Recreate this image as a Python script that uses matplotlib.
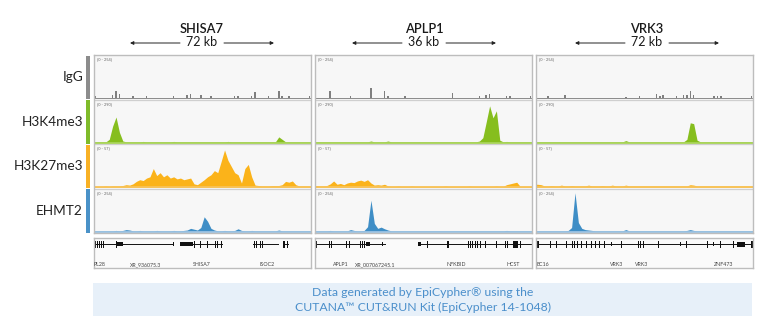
import numpy as np
import matplotlib
matplotlib.use('Agg')
import matplotlib.pyplot as plt
from matplotlib.patches import Rectangle

plt.rcParams['font.family'] = ['Lato', 'DejaVu Sans']

# ---------------- data ----------------
genes = ['SHISA7', 'APLP1', 'VRK3']
spans = ['72 kb', '36 kb', '72 kb']
tracks = ['IgG', 'H3K4me3', 'H3K27me3', 'EHMT2']
ranges = ['[0 - 254]', '[0 - 290]', '[0 - 57]', '[0 - 254]']

# signal (% of track height), 64 bins per locus
igg_shisa7 = [5,0,0,0,0,8,18,10,0,0, 0,6,0,0,0,6,0,0,0,0, 0,0,0,5,0,0,0,8,9,0,
              0,8,0,0,5,0,0,0,0,0, 0,6,5,0,0,0,6,15,0,0, 0,5,0,0,18,6,0,5,0,0, 0,0,0,6]
igg_aplp1 = [0,0,0,0,18,0,0,0,0,0, 5,0,0,0,0,0,25,0,0,0, 18,6,0,0,0,0,5,0,0,0,
             0,0,0,0,0,0,0,0,0,0, 12,0,0,0,0,0,0,0,5,0, 8,10,0,0,0,0,5,5,0,0, 0,0,0,6]
igg_vrk3 = [0,0,0,5,0,0,0,0,8,0, 0,0,0,0,0,0,0,0,0,0, 0,0,0,0,0,0,4,0,0,0,
            5,0,0,0,0,10,5,8,0,0, 0,5,0,8,8,18,8,0,0,0, 0,0,5,5,5,0,0,0,0,0, 0,0,0,5]

k4_shisa7 = [2,2,2,2,8,40,62,25,4,2, 2,2,2,2,3,2,2,2,2,2, 2,2,2,3,2,2,2,2,2,2,
             2,2,2,2,2,2,2,2,2,3, 2,2,2,2,2,2,2,2,2,2, 2,2,2,2,14,8,2,2,2,2, 2,2,2,2]
k4_aplp1 = [2,2,2,2,2,2,2,2,2,2, 2,2,2,2,2,2,4,2,2,2, 2,4,2,2,2,2,2,2,2,2,
            2,2,2,2,2,2,2,2,2,2, 2,2,2,2,2,2,2,2,4,12, 50,89,60,77,6,2,3,2,2,2, 2,2,2,2]
k4_vrk3 = [2,2,2,2,2,2,2,2,2,2, 2,2,2,2,2,2,2,2,2,2, 2,2,2,2,2,2,5,2,2,2,
           2,2,2,2,2,2,2,2,2,2, 2,2,2,2,8,48,46,6,2,2, 2,2,2,2,2,2,2,2,2,2, 2,2,2,2]

k27_shisa7 = [2,2,2,3,2,3,3,3,4,6, 5,8,14,18,16,22,25,45,28,35, 25,30,22,25,20,22,18,20,22,8,
              6,12,18,25,30,40,35,62,90,65, 50,35,30,10,45,55,25,5,4,3, 3,3,4,4,4,6,14,12,15,6, 3,3,3,3]
k27_aplp1 = [4,3,3,4,8,15,7,9,6,10, 12,11,15,17,14,18,10,5,6,5, 7,3,2,2,3,2,2,2,3,2,
             2,2,2,2,2,2,2,2,3,2, 2,2,2,2,2,3,2,2,2,2, 2,2,2,3,2,2,6,8,10,12, 2,2,2,2]
k27_vrk3 = [7,6,3,3,4,3,3,5,3,3, 4,3,3,3,3,5,3,3,3,4, 3,3,5,3,3,3,5,3,3,3,
            3,3,3,3,3,3,3,3,3,3, 3,3,3,3,3,6,5,3,3,3, 3,3,3,3,3,3,3,3,3,3, 3,3,3,3]

ehmt2_shisa7 = [2,2,2,2,2,2,3,2,3,5, 4,2,2,3,2,2,2,2,3,2, 2,2,2,3,2,2,3,4,8,6,
                4,10,36,25,8,4,2,2,3,2, 2,3,7,3,2,2,3,2,2,2, 2,2,2,2,4,2,2,2,2,2, 2,2,2,2]
ehmt2_aplp1 = [2,2,2,2,3,2,2,2,2,2, 5,3,2,2,3,12,76,20,8,11, 7,4,2,2,2,2,2,2,2,2,
               2,2,2,2,2,2,2,2,2,2, 2,2,2,2,2,2,2,2,2,2, 2,2,2,2,2,2,3,2,2,2, 2,2,2,2]
ehmt2_vrk3 = [2,2,2,2,2,2,2,2,2,3, 10,94,22,8,5,4,3,2,2,2, 2,2,2,2,2,2,5,2,2,2,
              2,2,2,2,2,2,2,2,2,2, 2,2,2,2,3,5,3,2,2,2, 2,2,2,2,2,2,2,2,2,2, 2,2,2,2]

signals = [
    [igg_shisa7, k4_shisa7, k27_shisa7, ehmt2_shisa7],
    [igg_aplp1, k4_aplp1, k27_aplp1, ehmt2_aplp1],
    [igg_vrk3, k4_vrk3, k27_vrk3, ehmt2_vrk3],
]

# gene models (fraction of locus): intron lines and exons (center, width, relative height)
gene_lines = [
    [(0.0, 0.366), (0.395, 0.589), (0.734, 0.849), (0.872, 0.894)],
    [(0.0, 0.321), (0.475, 1.0)],
    [(0.0, 1.0)],
]
gene_exons = [
    [(0.005,0.008,1),(0.016,0.004,1),(0.025,0.004,1),(0.034,0.004,1),(0.043,0.004,1),
     (0.055,0.004,1),(0.092,0.004,1),(0.103,0.006,1),(0.120,0.028,0.6),(0.366,0.003,0.6),
     (0.426,0.062,0.6),(0.463,0.006,1),(0.490,0.004,1),(0.523,0.004,1),(0.560,0.005,1),
     (0.570,0.005,1),(0.587,0.005,1),(0.740,0.006,1),(0.750,0.004,1),(0.768,0.006,1),
     (0.778,0.004,1),(0.877,0.010,1),(0.892,0.004,1)],
    [(0.005,0.006,1),(0.014,0.004,1),(0.023,0.004,1),(0.032,0.004,1),(0.066,0.004,1),
     (0.077,0.004,1),(0.144,0.004,1),(0.159,0.004,1),(0.198,0.004,1),(0.208,0.004,1),
     (0.218,0.004,1),(0.228,0.004,1),(0.245,0.019,0.6),(0.313,0.005,0.6),(0.483,0.015,0.6),
     (0.517,0.004,1),(0.539,0.004,1),(0.613,0.012,1),(0.645,0.003,0.6),(0.707,0.004,1),
     (0.718,0.004,1),(0.727,0.004,1),(0.738,0.004,1),(0.748,0.004,1),(0.761,0.004,1),
     (0.784,0.004,1),(0.807,0.003,1),(0.838,0.004,1),(0.877,0.004,1),(0.887,0.004,1),
     (0.903,0.004,1),(0.926,0.023,1),(0.949,0.004,1)],
    [(0.008,0.015,1),(0.046,0.003,1),(0.065,0.004,1),(0.074,0.004,1),(0.093,0.004,1),
     (0.139,0.004,1),(0.170,0.004,1),(0.179,0.004,1),(0.193,0.004,1),(0.208,0.004,1),
     (0.231,0.004,1),(0.255,0.004,1),(0.275,0.004,1),(0.293,0.004,1),(0.316,0.004,1),
     (0.347,0.003,0.6),(0.394,0.004,1),(0.471,0.004,1),(0.481,0.004,1),(0.497,0.004,1),
     (0.525,0.003,0.6),(0.563,0.004,1),(0.576,0.004,1),(0.617,0.003,0.6),(0.664,0.004,0.6),
     (0.694,0.004,1),(0.756,0.003,0.6),(0.790,0.004,1),(0.818,0.003,0.6),(0.852,0.004,1),
     (0.910,0.004,1),(0.944,0.039,0.8),(0.995,0.010,1)],
]
gene_labels = [
    [('PL28', 0.0), ('XR_936075.3', 0.165), ('SHISA7', 0.457), ('ISOC2', 0.762)],
    [('APLP1', 0.082), ('XR_007067245.1', 0.182), ('NFKBID', 0.606), ('HCST', 0.881)],
    [('EC16', 0.003), ('VRK3', 0.340), ('VRK3', 0.455), ('ZNF473', 0.818)],
]

# ---------------- style ----------------
W, H = 768, 332
fill_colors = ['#7f7f7f', '#86be1e', '#fbb31a', '#3f8ec6']
base_colors = ['#8a8a8a', '#a9d45a', '#f7c35a', '#9cc3e3']
bar_colors = ['#8c8c8c', '#7fbb2a', '#f8b125', '#4a92c8']
panel_x = [(94, 311), (315, 532), (536, 753)]
head_cx = [202, 424, 647]
trk_top, trk_bot = 55, 233
gene_top, gene_bot = 238, 268

fig = plt.figure(figsize=(W / 100, H / 100), dpi=100)

def px_axes(x0, y0, x1, y1):
    return fig.add_axes([x0 / W, 1 - y1 / H, (x1 - x0) / W, (y1 - y0) / H])

# overlay for text/decorations in pixel coordinates
ov = fig.add_axes([0, 0, 1, 1])
ov.set_xlim(0, W)
ov.set_ylim(H, 0)
ov.axis('off')

row_h = (trk_bot - trk_top) / 4
for j, name in enumerate(tracks):
    y0 = trk_top + j * row_h
    ov.add_patch(Rectangle((85.5, y0 + 0.5), 4, row_h - 1, color=bar_colors[j], lw=0))
    ov.text(83, y0 + row_h / 2, name, ha='right', va='center', fontsize=9.8, color='#222222')

for i in range(3):
    cx = head_cx[i]
    ov.text(cx, 29, genes[i], ha='center', va='center', fontsize=9.3, fontweight='semibold', color='#1a1a1a')
    ov.text(cx, 42.5, spans[i], ha='center', va='center', fontsize=9, color='#1a1a1a')
    for a, b in [(cx - 22, cx - 72), (cx + 22, cx + 72)]:
        ov.annotate('', xy=(b, 43), xytext=(a, 43),
                    arrowprops=dict(arrowstyle='-|>', lw=0.7, color='#222222',
                                    mutation_scale=5, shrinkA=0, shrinkB=0))

# bottom note box
ov.add_patch(Rectangle((93, 283), 659, 33, color='#e7f0f9', lw=0))
ov.text(423, 292.5, 'Data generated by EpiCypher® using the', ha='center', va='center',
        fontsize=8.8, color='#4b8fcb')
ov.text(423, 307.5, 'CUTANA™ CUT&RUN Kit (EpiCypher 14-1048)', ha='center', va='center',
        fontsize=8.8, color='#4b8fcb')

# signal panels
for i in range(3):
    x0, x1 = panel_x[i]
    ax = px_axes(x0, trk_top, x1, trk_bot)
    ax.set_xlim(0, 1)
    ax.set_ylim(0, 4)
    ax.set_facecolor('#f7f7f7')
    for s in ax.spines.values():
        s.set_color('#bdbdbd')
        s.set_linewidth(1.0)
    ax.set_xticks([])
    ax.set_yticks([])
    for k in (1, 2, 3):
        ax.axhline(k, color='#cfcfcf', lw=0.9)
    for j in range(4):
        vals = np.asarray(signals[i][j], dtype=float)
        n = len(vals)
        x = (np.arange(n) + 0.5) / n
        base = 3 - j + 0.03
        scale = 0.93 / 100
        if j == 0:
            ax.bar(x, vals * scale, width=0.45 / n, bottom=base, color=fill_colors[j], lw=0)
            ax.plot([0, 1], [base, base], color=base_colors[j], lw=0.7)
        else:
            xx = np.concatenate([[0], x, [1]])
            yy = np.concatenate([[vals[0]], vals, [vals[-1]]]) * scale
            ax.fill_between(xx, base, base + yy, color=fill_colors[j], lw=0)
            ax.plot([0, 1], [base, base], color=base_colors[j], lw=1.3)
        ax.text(0.012, 4 - j - 0.06, ranges[j], ha='left', va='top', fontsize=2.8, color='#666666')

    # gene track
    g = px_axes(x0, gene_top, x1, gene_bot)
    g.set_xlim(0, 1)
    g.set_ylim(0, 1)
    g.set_facecolor('#fafafa')
    for s in g.spines.values():
        s.set_color('#bdbdbd')
        s.set_linewidth(1.0)
    g.set_xticks([])
    g.set_yticks([])
    gy = 0.79
    for a, b in gene_lines[i]:
        g.plot([a, b], [gy, gy], color='#111111', lw=0.7)
    for c, w, h in gene_exons[i]:
        g.add_patch(Rectangle((c - w / 2, gy - 0.11 * h), w, 0.22 * h, color='#111111', lw=0))
    for lab, pos in gene_labels[i]:
        g.text(pos, 0.12, lab, ha='left', va='center', fontsize=3.8, color='#444444')

fig.savefig('out.png', dpi=100)
